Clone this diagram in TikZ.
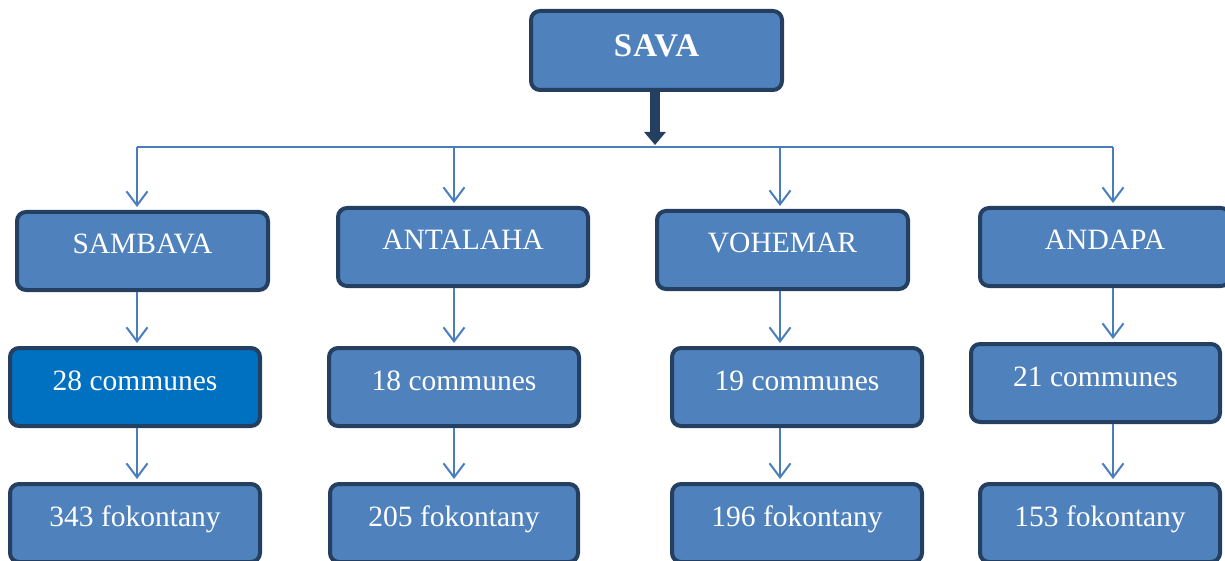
\documentclass[tikz,border=0pt]{standalone}
\usepackage{fontspec}
\setmainfont{Liberation Serif}
\usetikzlibrary{arrows.meta}
\definecolor{boxfill}{HTML}{4F81BD}
\definecolor{boxdraw}{HTML}{243F60}
\definecolor{linecol}{HTML}{4A7EBB}
\definecolor{hilite}{HTML}{0070C0}
\begin{document}
\begin{tikzpicture}[x=1pt,y=-1pt,
  box/.style={draw=boxdraw, fill=boxfill, line width=4pt, rounded corners=9pt,
    anchor=north west, inner sep=0pt, minimum height=78pt, minimum width=250pt,
    text height=42pt, text depth=36pt, text=white,
    font=\fontsize{29.5}{29.5}\selectfont},
  topbox/.style={box, minimum width=251pt, minimum height=79pt,
    text height=46pt, text depth=33pt,
    font=\fontsize{33}{33}\selectfont\bfseries\addfontfeature{LetterSpace=4}},
  hline/.style={draw=linecol, line width=2pt},
  conn/.style={hline, -{Straight Barb[length=14pt,width=21pt]}, shorten >=3pt},
  bigarrow/.style={draw=boxdraw, line width=10pt, -{Triangle[length=13pt,width=21pt]}, shorten >=2pt}
]
\useasboundingbox (0,0) rectangle (1225,561);
\clip (0,0) rectangle (1225,561);

% top
\node[topbox] (sava) at (529,9) {SAVA};

% hub and drop points
\coordinate (hub) at (655,147);
\coordinate (a1) at (137,147);
\coordinate (a2) at (454,147);
\coordinate (a3) at (780,147);
\coordinate (a4) at (1113,147);

% level 1
\node[box, minimum width=251pt] (sam) at (15,210) {SAMBAVA};
\node[box] (ant) at (336,206) {ANTALAHA};
\node[box, minimum width=251pt] (voh) at (655,209) {VOHEMAR};
\node[box] (and) at (978,206) {ANDAPA};

% level 2
\node[box, fill=hilite] (c1) at (8,346) {28 communes};
\node[box] (c2) at (327,346) {18 communes};
\node[box] (c3) at (670,346) {19 communes};
\node[box, minimum width=249pt] (c4) at (969,342) {21 communes};

% level 3
\node[box] (f1) at (8,482) {343 fokontany};
\node[box, minimum width=248pt] (f2) at (328,482) {205 fokontany};
\node[box] (f3) at (670,482) {196 fokontany};
\node[box, minimum width=240pt] (f4) at (978,482) {153 fokontany};

% connectors
\draw[bigarrow] (sava.south -| hub) -- (hub);
\draw[hline] (a1) -- (a4);
\draw[conn] (a1) -- (sam.north -| a1);
\draw[conn] (a2) -- (ant.north -| a2);
\draw[conn] (a3) -- (voh.north -| a3);
\draw[conn] (a4) -- (and.north -| a4);

\draw[conn] (sam.south -| a1) -- (c1.north -| a1);
\draw[conn] (ant.south -| a2) -- (c2.north -| a2);
\draw[conn] (voh.south -| a3) -- (c3.north -| a3);
\draw[conn] (and.south -| a4) -- (c4.north -| a4);

\draw[conn] (c1.south -| a1) -- (f1.north -| a1);
\draw[conn] (c2.south -| a2) -- (f2.north -| a2);
\draw[conn] (c3.south -| a3) -- (f3.north -| a3);
\draw[conn] (c4.south -| a4) -- (f4.north -| a4);
\end{tikzpicture}
\end{document}
